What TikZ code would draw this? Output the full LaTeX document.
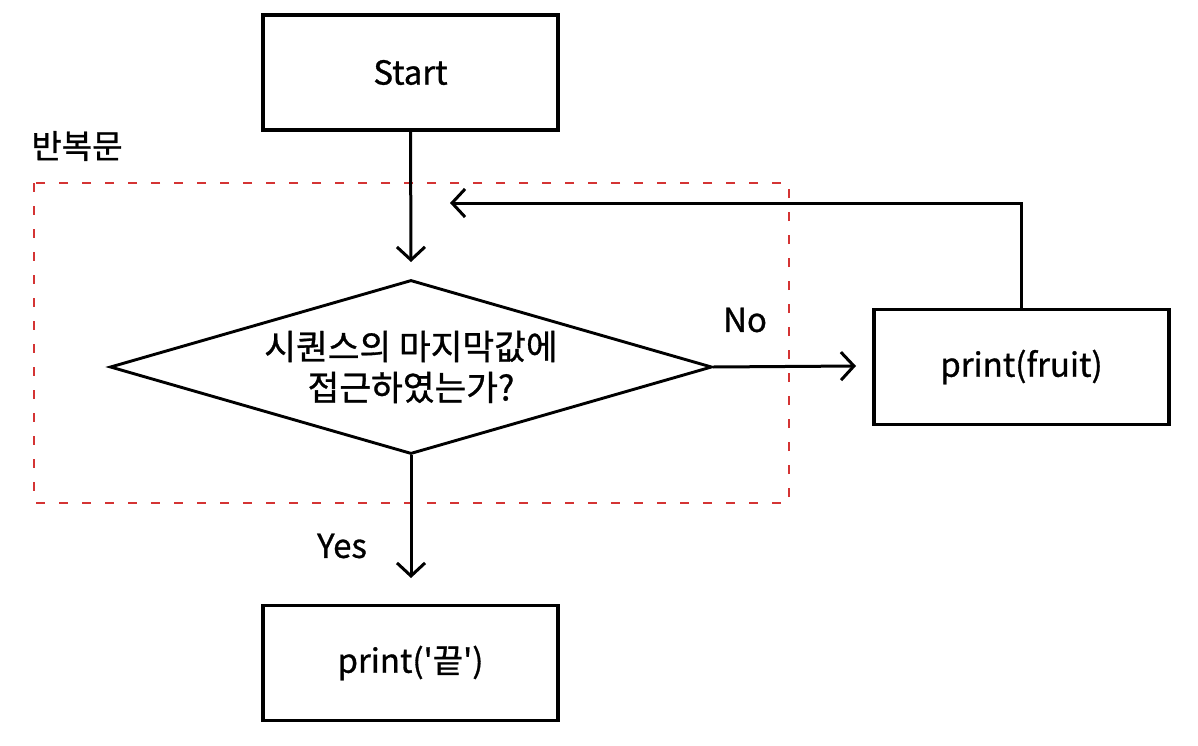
\documentclass[tikz,border=0pt]{standalone}
\usepackage{fontspec}
\setmainfont{Noto Sans CJK KR}
\newfontfamily\heavyfont{Noto Sans CJK KR}[FakeBold=0.9]
\usetikzlibrary{arrows.meta,shapes.geometric}
\definecolor{loopred}{RGB}{212,52,52}
\tikzset{
  x=1pt, y=-1pt,
  box/.style={draw, line width=3.3pt, minimum width=295pt, minimum height=115pt, inner sep=0pt, font=\heavyfont\fontsize{33}{40}\selectfont},
  decision/.style={draw, line width=2.9pt, diamond, aspect=3.46, minimum width=602pt, minimum height=174pt, inner sep=0pt, align=center, font=\heavyfont\fontsize{34.5}{41}\selectfont},
  flow/.style={line width=3pt, -{Straight Barb[length=13pt,width=28pt,line width=3pt]}},
  lbl/.style={font=\heavyfont\fontsize{33}{40}\selectfont, inner sep=0pt},
  loopframe/.style={draw=loopred, line width=2.5pt, dash pattern=on 9pt off 14pt}
}
\begin{document}
\begin{tikzpicture}
\useasboundingbox (0,0) rectangle (1198,746);
\node[box] (start) at (410.5,72.5) {\raisebox{-3pt}{Start}};
\node[lbl] (looplbl) at (77,146) {반복문};
\draw[loopframe] (34,183) rectangle (789,503);
\node[decision] (cond) at (411,367) {시퀀스의 마지막값에\\접근하였는가?};
\node[box] (fruit) at (1021.5,367) {\raisebox{-3pt}{print(fruit)}};
\node[box] (endbox) at (410.5,663) {print(\symbol{39}끝\symbol{39})};
\node[lbl] (nolbl) at (745,320) {No};
\node[lbl] (yeslbl) at (342,546) {Yes};
\coordinate (starttip) at (411,262);
\coordinate (notip) at (856,366);
\coordinate (yestip) at (411,578);
\coordinate (loopcorner) at (1021.5,203);
\coordinate (looptip) at (450,203);
\draw[flow] (start.south) -- (starttip);
\draw[flow] (cond.east) -- (notip);
\draw[flow] (cond.south) -- (yestip);
\draw[flow] (fruit.north) -- (loopcorner) -- (looptip);
\end{tikzpicture}
\end{document}
